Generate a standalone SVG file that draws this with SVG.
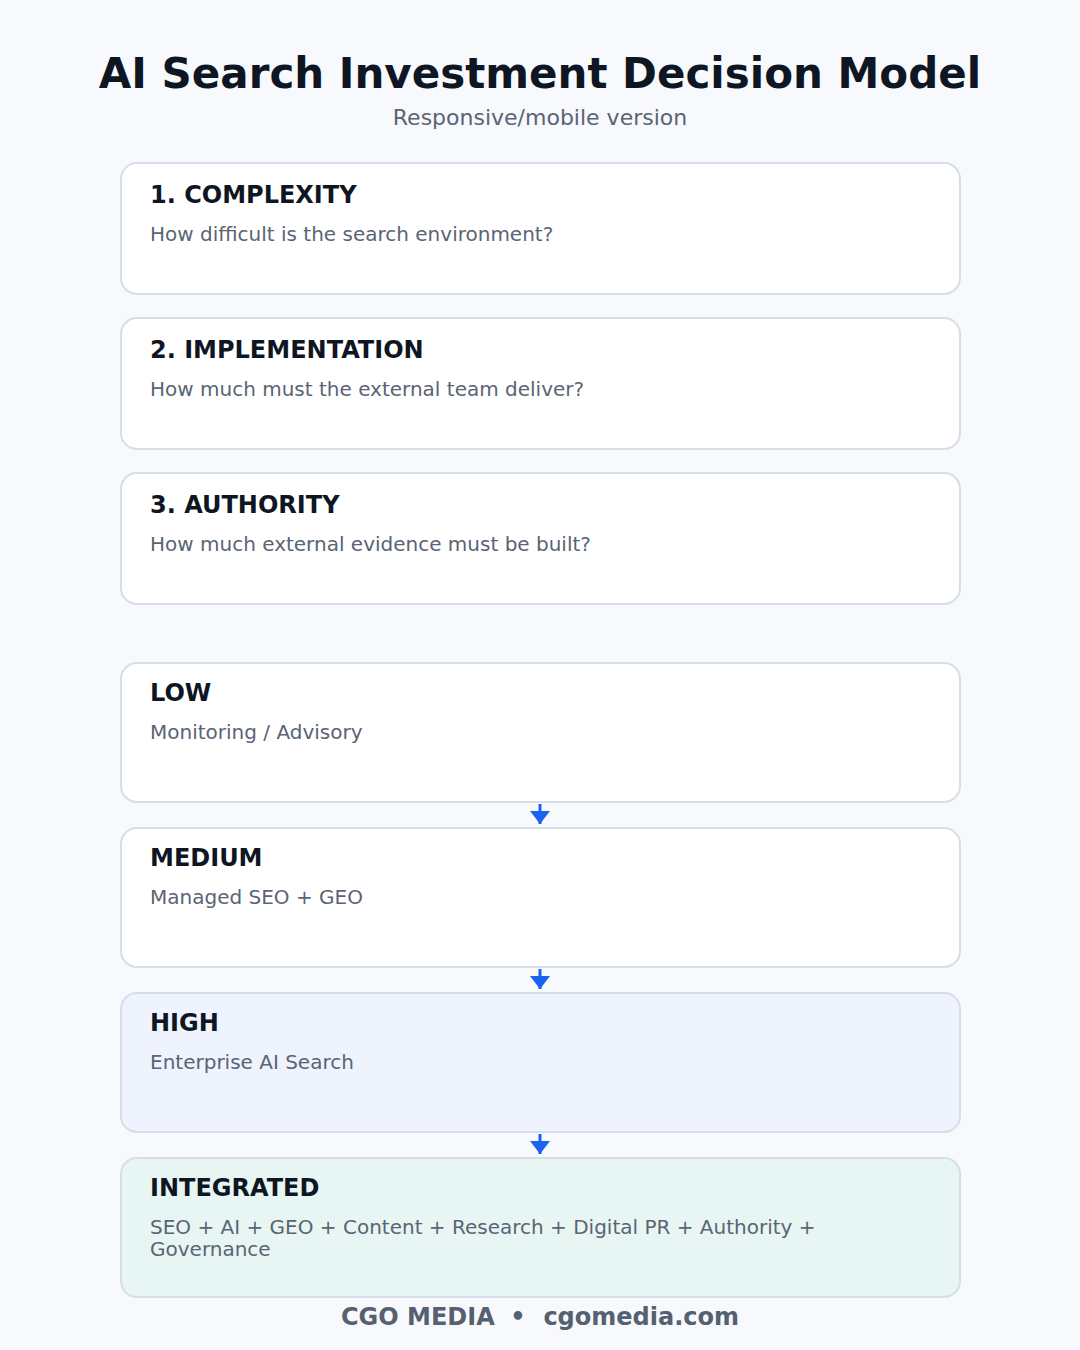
<svg xmlns="http://www.w3.org/2000/svg" width="1080" height="1350" viewBox="0 0 1080 1350">
<style>
.bg{fill:#f7f9fc}
.card{fill:#ffffff;stroke:#d6dee8;stroke-width:2}
.high{fill:#eef3fe}
.integ{fill:#e8f6f3}
.title{font-family:"DejaVu Sans",sans-serif;font-weight:bold;font-size:42px;fill:#0f1623}
.sub{font-family:"DejaVu Sans",sans-serif;font-size:22px;fill:#5a6474}
.h{font-family:"DejaVu Sans",sans-serif;font-weight:bold;font-size:24px;fill:#0f1623}
.d{font-family:"DejaVu Sans",sans-serif;font-size:20px;fill:#5a6474}
.foot{font-family:"DejaVu Sans",sans-serif;font-weight:bold;font-size:24px;fill:#556070}
.conn{stroke:#1a62f0;stroke-width:3;fill:none}
</style>
<defs>
<marker id="ah" viewBox="0 0 13 20" refX="13" refY="10" markerWidth="13" markerHeight="20" markerUnits="userSpaceOnUse" orient="auto">
<path d="M0,0 L13,10 L0,20 Z" fill="#1a62f0"/>
</marker>
</defs>
<rect class="bg" x="0" y="0" width="1080" height="1350"/>
<text class="title" x="540" y="88" text-anchor="middle">AI Search Investment Decision Model</text>
<text class="sub" x="540" y="125" text-anchor="middle">Responsive/mobile version</text>

<g id="complexity">
<rect class="card" x="121" y="163" width="839" height="131" rx="16"/>
<text class="h" x="150" y="203">1. COMPLEXITY</text>
<text class="d" x="150" y="241">How difficult is the search environment?</text>
</g>
<g id="implementation">
<rect class="card" x="121" y="318" width="839" height="131" rx="16"/>
<text class="h" x="150" y="358">2. IMPLEMENTATION</text>
<text class="d" x="150" y="396">How much must the external team deliver?</text>
</g>
<g id="authority">
<rect class="card" x="121" y="473" width="839" height="131" rx="16"/>
<text class="h" x="150" y="513">3. AUTHORITY</text>
<text class="d" x="150" y="551">How much external evidence must be built?</text>
</g>
<g id="low">
<rect class="card" x="121" y="663" width="839" height="139" rx="16"/>
<text class="h" x="150" y="701">LOW</text>
<text class="d" x="150" y="739">Monitoring / Advisory</text>
</g>
<g id="medium">
<rect class="card" x="121" y="828" width="839" height="139" rx="16"/>
<text class="h" x="150" y="866">MEDIUM</text>
<text class="d" x="150" y="904">Managed SEO + GEO</text>
</g>
<g id="high">
<rect class="card high" x="121" y="993" width="839" height="139" rx="16"/>
<text class="h" x="150" y="1031">HIGH</text>
<text class="d" x="150" y="1069">Enterprise AI Search</text>
</g>
<g id="integrated">
<rect class="card integ" x="121" y="1158" width="839" height="139" rx="16"/>
<text class="h" x="150" y="1196">INTEGRATED</text>
<text class="d" x="150" y="1234">SEO + AI + GEO + Content + Research + Digital PR + Authority +</text>
<text class="d" x="150" y="1256">Governance</text>
</g>
<g id="connectors">
<line class="conn" x1="540" y1="804" x2="540" y2="824" marker-end="url(#ah)"/>
<line class="conn" x1="540" y1="969" x2="540" y2="989" marker-end="url(#ah)"/>
<line class="conn" x1="540" y1="1134" x2="540" y2="1154" marker-end="url(#ah)"/>
</g>
<text class="foot" x="341" y="1325">CGO MEDIA</text>
<text class="foot" x="518" y="1325" text-anchor="middle">•</text>
<text class="foot" x="739" y="1325" text-anchor="end">cgomedia.com</text>
</svg>
